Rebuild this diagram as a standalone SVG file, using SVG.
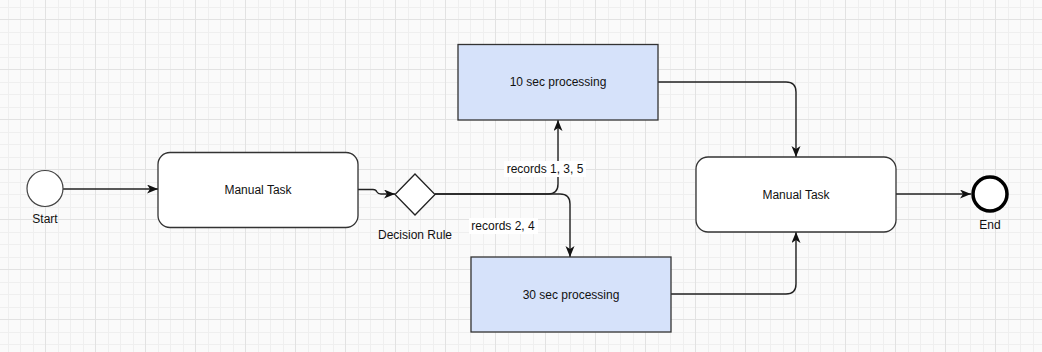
<svg xmlns="http://www.w3.org/2000/svg" width="1042" height="352" viewBox="0 0 1042 352">
<style>
text{font-family:"Liberation Sans",Arial,sans-serif;font-size:12px;fill:#111;text-anchor:middle}
.task{fill:#fff;stroke:#333;stroke-width:1.3}
.proc{fill:#d6e2fa;stroke:#333;stroke-width:1.3}
.edge{fill:none;stroke:#222;stroke-width:1.4}
.lbl{fill:#fff}
</style>
<defs>
<pattern id="grid" x="-5" y="-31" width="50" height="50" patternUnits="userSpaceOnUse">
<rect width="50" height="50" fill="#fafafa"/>
<g fill="#efefef" shape-rendering="crispEdges">
<rect x="12.5" y="0" width="1" height="50"/><rect x="25" y="0" width="1" height="50"/><rect x="37.5" y="0" width="1" height="50"/>
<rect x="0" y="12.5" width="50" height="1"/><rect x="0" y="25" width="50" height="1"/><rect x="0" y="37.5" width="50" height="1"/>
</g>
<g fill="#e2e2e2" shape-rendering="crispEdges">
<rect x="0" y="0" width="1" height="50"/><rect x="0" y="0" width="50" height="1"/>
</g>
</pattern>
<marker id="arr" markerUnits="userSpaceOnUse" markerWidth="12" markerHeight="10" refX="11" refY="4.5" orient="auto">
<path d="M0,0 L11,4.5 L0,9 L3,4.5 z" fill="#111"/>
</marker>
</defs>
<rect width="1042" height="352" fill="url(#grid)"/>
<g id="connectors">
<path class="edge" d="M63,189 H158" marker-end="url(#arr)"/>
<path class="edge" d="M358,189.5 H373 Q376,189.5 377,192 Q378,194 381,194 H395" marker-end="url(#arr)"/>
<path class="edge" d="M435,194 H548 Q558,194 558,184 V120" marker-end="url(#arr)"/>
<path class="edge" d="M435,194 H560 Q570,194 570,204 V257" marker-end="url(#arr)"/>
<path class="edge" d="M658,82 H786 Q796,82 796,92 V157" marker-end="url(#arr)"/>
<path class="edge" d="M671,294 H786 Q796,294 796,284 V232" marker-end="url(#arr)"/>
<path class="edge" d="M896,194 H971" marker-end="url(#arr)"/>
<rect class="lbl" x="504" y="161" width="82" height="16"/>
<text x="545" y="173">records 1, 3, 5</text>
<rect class="lbl" x="469" y="218" width="69" height="16"/>
<text x="503" y="230">records 2, 4</text>
</g>
<g id="start">
<circle cx="45" cy="188.5" r="18" fill="#fff" stroke="#444" stroke-width="1.2"/>
<text x="45" y="223">Start</text>
</g>
<g id="task1">
<rect class="task" x="158" y="152.5" width="200" height="75" rx="12"/>
<text x="258" y="194">Manual Task</text>
</g>
<g id="gateway">
<path d="M415,174 L435,194.5 L415,215 L395,194.5 z" fill="#fff" stroke="#222" stroke-width="1.3"/>
<text x="415" y="239">Decision Rule</text>
</g>
<g id="proc10">
<rect class="proc" x="458" y="44.5" width="200" height="75.5"/>
<text x="558" y="86">10 sec processing</text>
</g>
<g id="proc30">
<rect class="proc" x="471" y="257" width="200" height="75"/>
<text x="571" y="299">30 sec processing</text>
</g>
<g id="task2">
<rect class="task" x="696" y="157" width="200" height="75" rx="12"/>
<text x="796" y="198.5">Manual Task</text>
</g>
<g id="end">
<circle cx="990" cy="194" r="17" fill="#fff" stroke="#000" stroke-width="3.5"/>
<text x="990" y="229">End</text>
</g>
</svg>
